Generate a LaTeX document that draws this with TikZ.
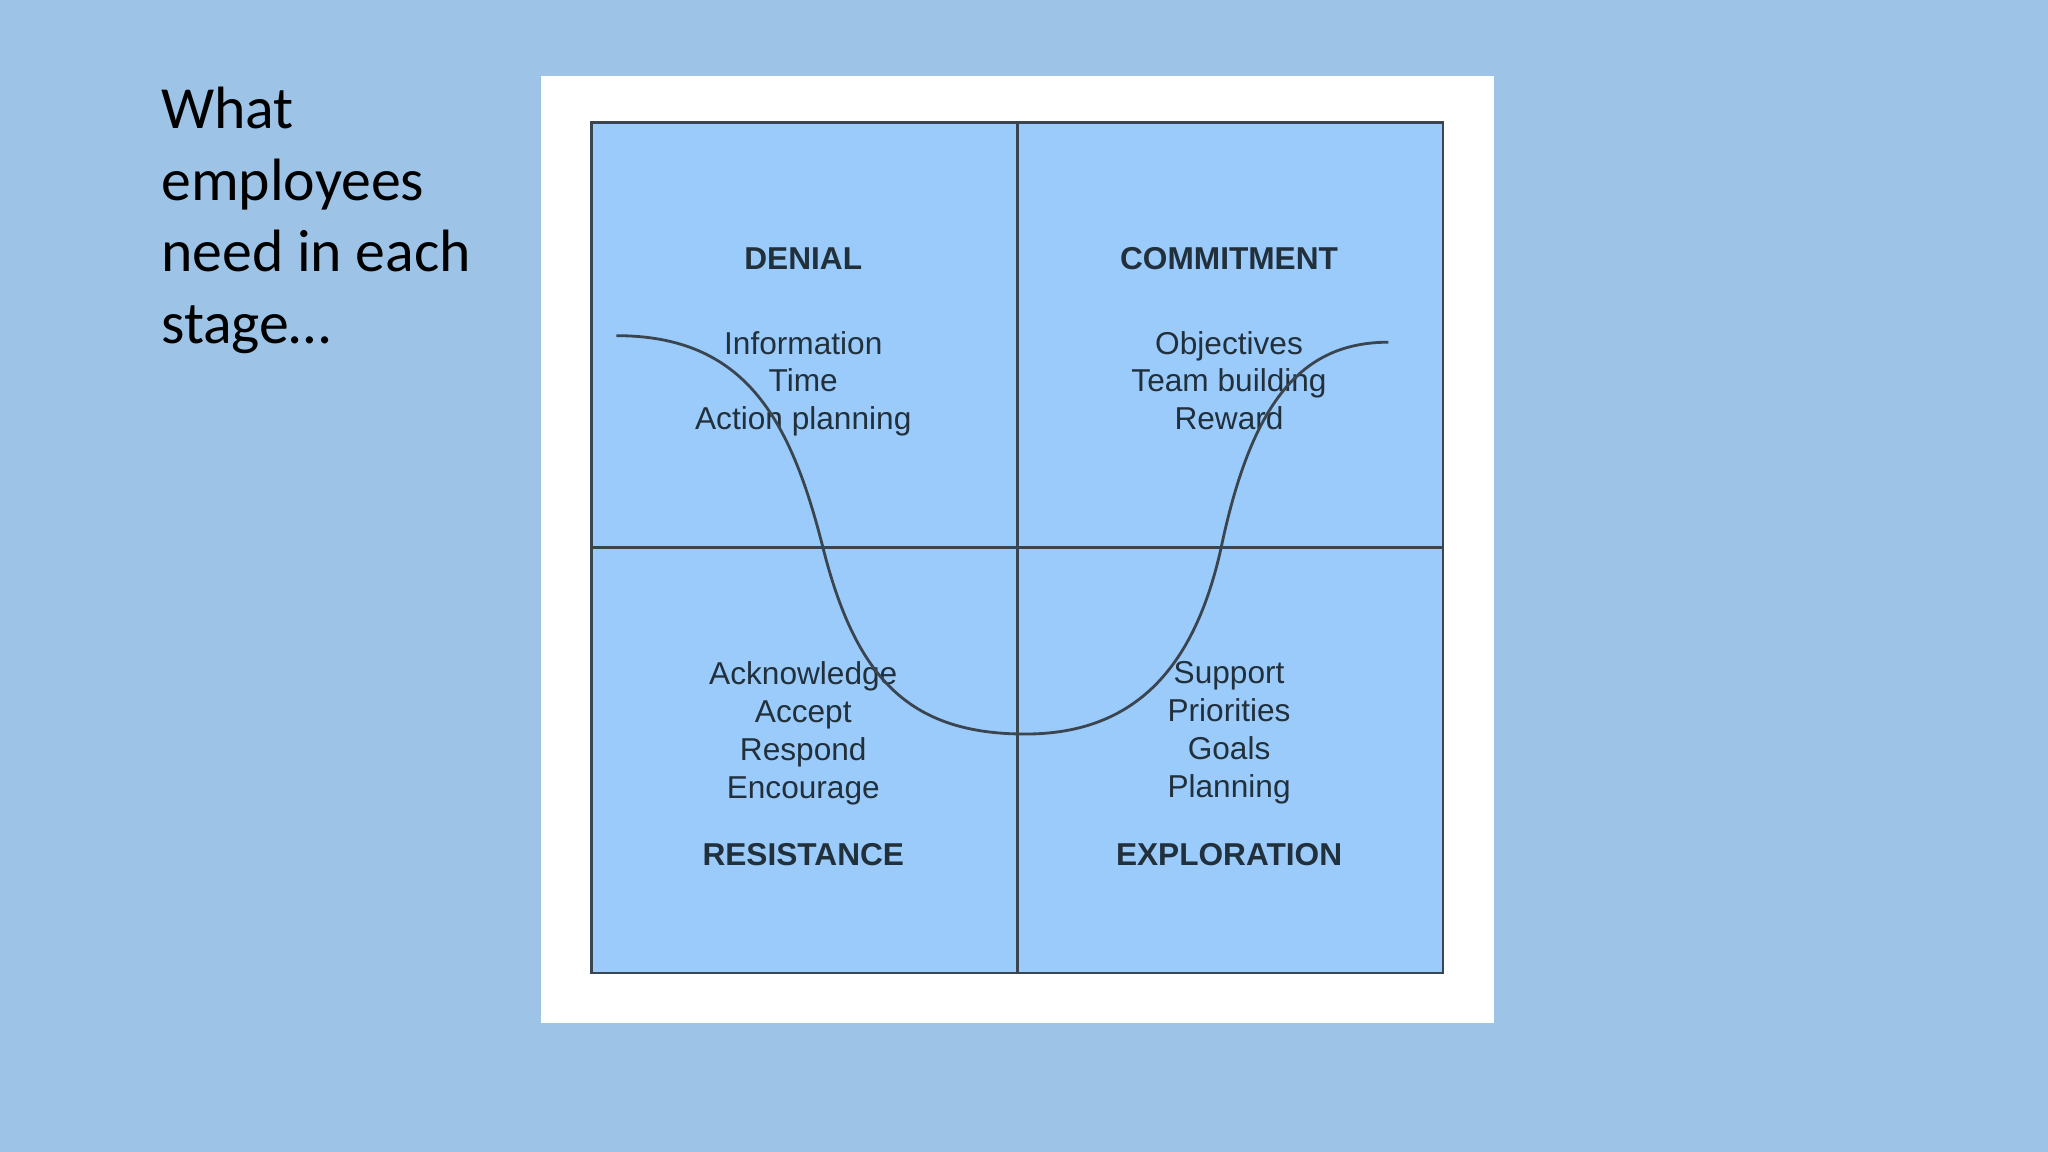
\documentclass[tikz,border=0pt]{standalone}
\usepackage{fontspec}
\setmainfont{Liberation Sans}
\newfontfamily\carl{Carlito}
\definecolor{bg}{HTML}{9DC3E6}
\definecolor{quad}{HTML}{9ACBFA}
\definecolor{edge}{HTML}{3A4550}
\definecolor{txt}{HTML}{22303C}
\tikzset{
  head/.style={font=\fontsize{9}{10}\selectfont\bfseries, text=txt},
  items/.style={font=\fontsize{9}{10.8}\selectfont, text=txt, align=center, anchor=north},
  quadbox/.style={draw=edge, line width=0.7pt, fill=quad}
}
\begin{document}
\begin{tikzpicture}[x=0.013061cm,y=-0.013061cm]
\fill[bg] (0,0) rectangle (1568,882);
\useasboundingbox (0,0) rectangle (1568,882);
\fill[white] (414,58) rectangle (1144,783);
\node[quadbox, minimum width=652*0.013061cm, minimum height=651*0.013061cm, anchor=north west, inner sep=0pt] (grid) at (452,93) {};
\coordinate (tm) at (779,93); \coordinate (bm) at (779,744);
\coordinate (lm) at (452,419); \coordinate (rm) at (1104,419);
\draw[edge, line width=0.9pt] (tm) -- (bm);
\draw[edge, line width=0.9pt] (lm) -- (rm);
\node[font=\carl\fontsize{17}{20.4}\selectfont, align=left, anchor=north west, inner sep=0pt] (title) at (123,66) {What\\employees\\need in each\\stage…};
\node[head] (denial) at (615,198) {DENIAL};
\node[head] (commit) at (941,198) {COMMITMENT};
\node[head] (resist) at (615,654) {RESISTANCE};
\node[head] (explor) at (941,654) {EXPLORATION};
\node[items] (dl) at (615,244) {Information\\Time\\Action planning};
\node[items] (cl) at (941,244) {Objectives\\Team building\\Reward};
\node[items] (rl) at (615,497) {Acknowledge\\Accept\\Respond\\Encourage};
\node[items] (el) at (941,497) {Support\\Priorities\\Goals\\Planning};
\coordinate (cs) at (472,257); \coordinate (ce) at (1063,262);
\draw[edge, line width=0.8pt] (cs) .. controls (570,257) and (605,320) .. (630,419)
  .. controls (655,518) and (695,562) .. (785,562)
  .. controls (870,562) and (915,510) .. (935,419)
  .. controls (958,310) and (995,262) .. (ce);
\end{tikzpicture}
\end{document}
